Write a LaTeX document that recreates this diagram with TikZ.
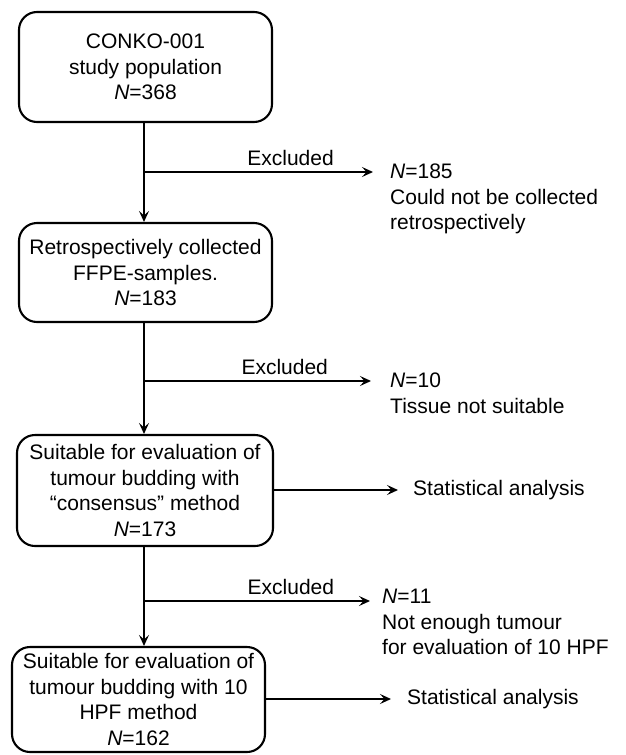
\documentclass[tikz,border=0pt]{standalone}
\usepackage{fontspec}
\setmainfont{Liberation Sans}
\usetikzlibrary{arrows.meta}
\begin{document}
\begin{tikzpicture}[x=1pt,y=-1pt,
  every node/.style={font=\fontsize{21}{25.5}\selectfont, inner sep=0pt},
  box/.style={draw, line width=2.1pt, rounded corners=18pt, align=center},
  lbl/.style={align=left, anchor=north west},
  arr/.style={line width=2.1pt, -{Stealth[length=11pt,width=10pt,inset=4.5pt]}},
  ln/.style={line width=2.1pt}]
\useasboundingbox (0,0) rectangle (625,755);
% boxes
\node[box, minimum width=253pt, minimum height=110pt] (b1) at (145.5,67) {CONKO-001\\study population\\\textit{N}=368};
\node[box, minimum width=253pt, minimum height=99pt] (b2) at (145.5,272.5) {Retrospectively collected\\FFPE-samples.\\\textit{N}=183};
\node[box, minimum width=256pt, minimum height=111pt] (b3) at (145,490.5) {Suitable for evaluation of\\tumour budding with\\“consensus” method\\\textit{N}=173};
\node[box, minimum width=253pt, minimum height=105pt] (b4) at (138.5,699.5) {Suitable for evaluation of\\tumour budding with 10\\HPF method\\\textit{N}=162};
% side texts
\node[lbl] (t1) at (390,164) {\textit{N}=185\\Could not be collected\\retrospectively};
\node[lbl] (t2) at (390,373) {\textit{N}=10\\Tissue not suitable};
\node[lbl] (t3) at (382,589) {\textit{N}=11\\Not enough tumour\\for evaluation of 10 HPF};
\node[anchor=west] (s1) at (413,490) {Statistical analysis};
\node[anchor=west] (s2) at (407,699) {Statistical analysis};
% branch points
\coordinate (j1) at (144,172);
\coordinate (j2) at (144,381);
\coordinate (j3) at (144,601);
\coordinate (e1) at (373,172);
\coordinate (e2) at (371,381);
\coordinate (e3) at (370,601);
% spine
\draw[arr] (b1.south -| j1) -- (b2.north -| j1);
\draw[arr] (b2.south -| j2) -- (b3.north -| j2);
\draw[arr] (b3.south -| j3) -- (b4.north -| j3);
% excluded arrows
\draw[arr] (j1) -- node[above=5pt, pos=0.64] (x1) {Excluded} (e1);
\draw[arr] (j2) -- node[above=5pt, pos=0.62] (x2) {Excluded} (e2);
\draw[arr] (j3) -- node[above=5pt, pos=0.65] (x3) {Excluded} (e3);
% statistical arrows
\draw[arr] (b3.east |- s1.west) -- ([xshift=-15pt]s1.west);
\draw[arr] (b4.east |- s2.west) -- ([xshift=-16pt]s2.west);
\end{tikzpicture}
\end{document}
